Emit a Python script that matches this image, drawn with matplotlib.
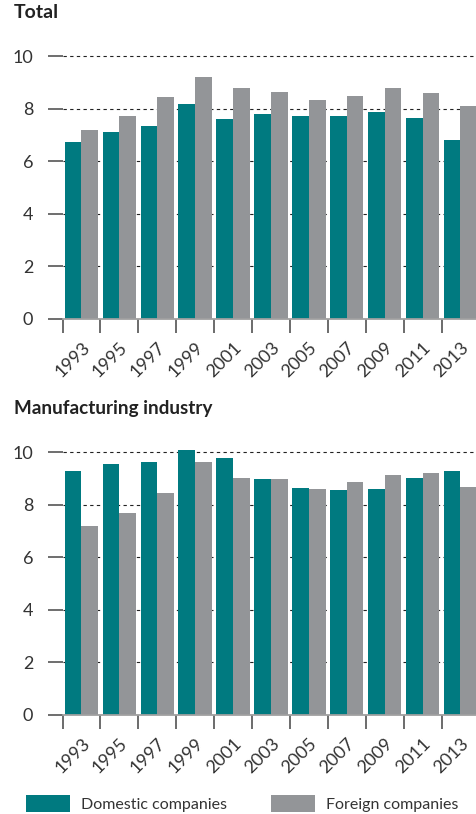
import matplotlib.pyplot as plt
import numpy as np

plt.rcParams['font.family'] = ['Lato', 'DejaVu Sans']

years = [str(y) for y in range(1993, 2014, 2)]
total_domestic = [6.73, 7.12, 7.34, 8.18, 7.61, 7.80, 7.73, 7.73, 7.88, 7.65, 6.81]
total_foreign = [7.19, 7.73, 8.45, 9.21, 8.79, 8.64, 8.34, 8.49, 8.79, 8.60, 8.11]
manuf_domestic = [9.29, 9.56, 9.63, 10.09, 9.78, 8.98, 8.64, 8.56, 8.60, 9.02, 9.29]
manuf_foreign = [7.19, 7.69, 8.45, 9.63, 9.02, 8.98, 8.60, 8.87, 9.14, 9.21, 8.68]

TEAL = '#007A80'
GREY = '#939598'
TXT = '#333333'


def draw_panel(ax, dom, forg):
    x = np.arange(len(years))
    w = 0.44
    ax.bar(x - w / 2, dom, w, color=TEAL, label='Domestic companies')
    ax.bar(x + w / 2, forg, w, color=GREY, label='Foreign companies')
    ax.set_xlim(-0.5, 10.41)
    ax.set_ylim(0, 10.6)
    ax.set_yticks(range(0, 11, 2))
    ax.yaxis.grid(True, linestyle=(0, (3, 3)), color='#222222', linewidth=0.8)
    ax.set_axisbelow(True)
    for s in ['top', 'right', 'left']:
        ax.spines[s].set_visible(False)
    ax.spines['bottom'].set_color('#a0a0a0')
    ax.spines['bottom'].set_linewidth(1.3)
    # ticks sit between groups, labels under group centres
    ax.set_xticks(x - 0.5)
    ax.set_xticklabels([])
    ax.set_xticks(x, minor=True)
    ax.set_xticklabels(years, minor=True, rotation=45, ha='right',
                       rotation_mode='anchor')
    ax.tick_params(axis='x', which='major', length=10, width=1.1,
                   color='#444444', direction='out')
    ax.tick_params(axis='x', which='minor', length=0, pad=15,
                   labelsize=13, labelcolor=TXT)
    ax.tick_params(axis='y', length=11, width=1.2, color='#555555',
                   pad=10, labelsize=13, labelcolor=TXT)


fig = plt.figure(figsize=(4.76, 8.14), dpi=100)
left = 62.5 / 476
height = 10.6 * 26.24 / 814

ax1 = fig.add_axes([left, (814 - 318.7) / 814, 1 - left, height])
draw_panel(ax1, total_domestic, total_foreign)
ax2 = fig.add_axes([left, (814 - 714.7) / 814, 1 - left, height])
draw_panel(ax2, manuf_domestic, manuf_foreign)

fig.text(14 / 476, 1 - 4 / 814, 'Total', fontsize=14,
         fontweight='bold', color='#222222', va='top', ha='left')
fig.text(14 / 476, 1 - 400 / 814, 'Manufacturing industry', fontsize=13.6,
         fontweight='bold', color='#222222', va='top', ha='left')

handles, labels = ax2.get_legend_handles_labels()
leg = fig.legend(handles, labels, loc='lower left',
                 bbox_to_anchor=(26 / 476, 2 / 814), ncol=2, frameon=False,
                 fontsize=11.5, handlelength=2.75, handleheight=1.25,
                 handletextpad=0.69, columnspacing=2.75, borderaxespad=0,
                 borderpad=0, labelcolor=TXT)

fig.savefig('out.png', dpi=100)
